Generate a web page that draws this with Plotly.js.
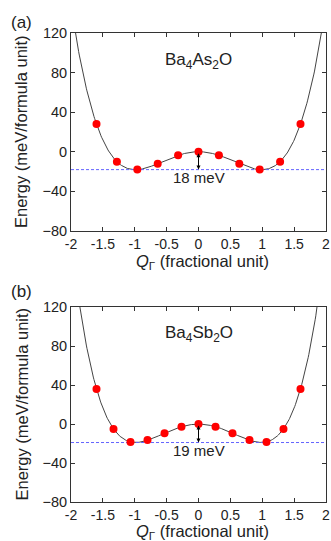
<!DOCTYPE html>
<html><head><meta charset="utf-8">
<script src="https://cdn.plot.ly/plotly-3.0.1.min.js"></script>
<style>html,body{margin:0;padding:0;background:#fff}#chart{width:331px;height:541px}</style>
</head><body><div id="chart"></div>
<script>
// Panel (a) Ba4As2O
const qA = [-1.6, -1.28, -0.96, -0.64, -0.32, 0, 0.32, 0.64, 0.96, 1.28, 1.6];
const eA = [28, -10, -18, -12, -3.5, 0, -3.5, -12, -18, -10, 28];
const barrierA = -18;
const labelA = "18 meV";
const nameA = "Ba<sub>4</sub>As<sub>2</sub>O";
// Panel (b) Ba4Sb2O
const qB = [-1.6, -1.333, -1.067, -0.8, -0.533, -0.267, 0, 0.267, 0.533, 0.8, 1.067, 1.333, 1.6];
const eB = [36, -5, -18.5, -16.5, -9.5, -2.8, 0, -2.8, -9.5, -16.5, -18.5, -5, 36];
const barrierB = -19;
const labelB = "19 meV";
const nameB = "Ba<sub>4</sub>Sb<sub>2</sub>O";
const xTicks = [-2, -1.5, -1, -0.5, 0, 0.5, 1, 1.5, 2];
const yTicks = [-80, -40, 0, 40, 80, 120];
const xTitle = "<i>Q</i><sub>Γ</sub> (fractional unit)";
const yTitle = "Energy (meV/formula unit)";

// least-squares even polynomial fit (1, x^2, x^4, x^6) of the computed points
function fitEven(xs, ys) {
  const n = 4;
  const A = Array.from({length: n}, () => new Array(n).fill(0));
  const b = new Array(n).fill(0);
  xs.forEach((x, k) => {
    const phi = [1, x*x, Math.pow(x,4), Math.pow(x,6)];
    for (let i = 0; i < n; i++) {
      b[i] += phi[i] * ys[k];
      for (let j = 0; j < n; j++) A[i][j] += phi[i] * phi[j];
    }
  });
  for (let i = 0; i < n; i++) {
    let p = i;
    for (let r = i+1; r < n; r++) if (Math.abs(A[r][i]) > Math.abs(A[p][i])) p = r;
    [A[i], A[p]] = [A[p], A[i]]; [b[i], b[p]] = [b[p], b[i]];
    for (let r = i+1; r < n; r++) {
      const f = A[r][i] / A[i][i];
      for (let c = i; c < n; c++) A[r][c] -= f * A[i][c];
      b[r] -= f * b[i];
    }
  }
  const c = new Array(n).fill(0);
  for (let i = n-1; i >= 0; i--) {
    let s = b[i];
    for (let j = i+1; j < n; j++) s -= A[i][j] * c[j];
    c[i] = s / A[i][i];
  }
  return x => c[0] + c[1]*x*x + c[2]*Math.pow(x,4) + c[3]*Math.pow(x,6);
}
function curve(xs, ys) {
  const f = fitEven(xs, ys);
  const cx = [], cy = [];
  for (let i = 0; i <= 400; i++) { const x = -2 + i * 0.01; cx.push(x); cy.push(f(x)); }
  return {cx, cy};
}
const cA = curve(qA, eA), cB = curve(qB, eB);

const font = {family: "Liberation Sans, Arial, sans-serif", color: "#222"};
const F = s => Object.assign({size: s}, font);
const traces = [];
function addPanel(xa, ya, q, e, c, barrier) {
  traces.push({x: c.cx, y: c.cy, xaxis: xa, yaxis: ya, mode: "lines", line: {color: "#444", width: 1}, hoverinfo: "skip"});
  traces.push({x: [-2, 2], y: [barrier, barrier], xaxis: xa, yaxis: ya, mode: "lines", line: {color: "#6464ff", width: 1, dash: "3px,2px"}});
  traces.push({x: q, y: e, xaxis: xa, yaxis: ya, mode: "markers", marker: {color: "#ff0000", size: 8}});
}
addPanel("x", "y", qA, eA, cA, barrierA);
addPanel("x2", "y2", qB, eB, cB, barrierB);

const xDom = [71/331, 326/331];
function xaxis(anchor) {
  return {domain: xDom, anchor: anchor, range: [-2, 2], tickvals: xTicks,
    ticktext: xTicks.map(String), ticks: "inside", ticklen: 4, tickcolor: "#333",
    showline: true, linecolor: "#333", linewidth: 1, mirror: "ticks", showgrid: false, zeroline: false,
    ticklabeloverflow: "allow", automargin: false, tickfont: F(14)};
}
function yaxis(anchor, dom) {
  return {domain: dom, anchor: anchor, range: [-80, 120], tickvals: yTicks,
    ticks: "inside", ticklen: 4, tickcolor: "#333",
    showline: true, linecolor: "#333", linewidth: 1, mirror: "ticks", showgrid: false, zeroline: false,
    ticklabeloverflow: "allow", automargin: false, tickfont: F(14.5)};
}
const domA = [1 - 231/541, 1 - 33/541], domB = [1 - 502/541, 1 - 307/541];
function paperText(xp, yp, text, size, angle) {
  return {x: xp / 331, y: 1 - yp / 541, xref: "paper", yref: "paper", text: text, showarrow: false,
    xanchor: "center", yanchor: "middle", textangle: angle || 0, font: F(size)};
}
function annots(xa, ya, barrier, label, name, yTop, yBot, xTitleY, tag, tagY) {
  return [
    {x: 0, y: barrier, ax: 0, ay: 0, xref: xa, yref: ya, axref: xa, ayref: ya, text: "", showarrow: true,
     arrowhead: 2, startarrowhead: 2, arrowside: "end+start", arrowsize: 0.8, arrowwidth: 1, arrowcolor: "#000"},
    {x: 0, y: barrier, xref: xa, yref: ya, text: label, showarrow: false, xanchor: "center", yanchor: "top", yshift: 3, font: F(15)},
    {x: 0, y: 92, xref: xa, yref: ya, text: name, showarrow: false, xanchor: "center", yanchor: "middle", font: F(17)},
    paperText(21, (yTop + yBot) / 2, yTitle, 16.5, -90),
    paperText((71 + 326) / 2 + 4, xTitleY, xTitle, 16.5),
    paperText(21, tagY, tag, 17)
  ];
}
const layout = {
  width: 331, height: 541, margin: {l: 0, r: 0, t: 0, b: 0}, showlegend: false,
  paper_bgcolor: "#fff", plot_bgcolor: "#fff",
  xaxis: xaxis("y"), yaxis: yaxis("x", domA),
  xaxis2: xaxis("y2"), yaxis2: yaxis("x2", domB),
  annotations: [].concat(
    annots("x", "y", barrierA, labelA, nameA, 33, 231, 262, "(a)", 22.5),
    annots("x2", "y2", barrierB, labelB, nameB, 307, 502, 532, "(b)", 291.5))
};
Plotly.newPlot("chart", traces, layout, {staticPlot: true, displayModeBar: false});
</script></body></html>
